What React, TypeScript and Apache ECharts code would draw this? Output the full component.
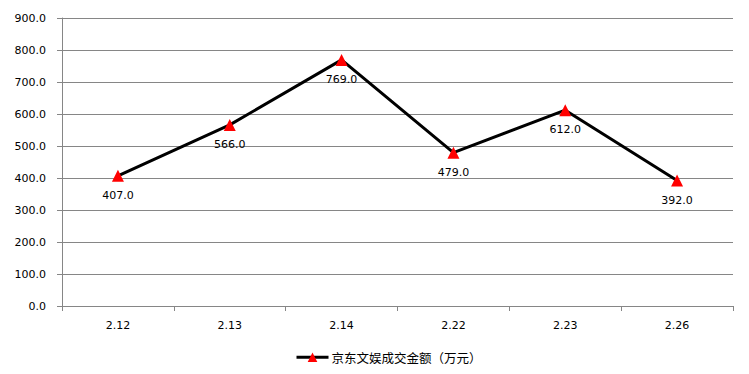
import React, { useEffect, useRef } from "react";
import * as echarts from "echarts";

const categories = ["2.12", "2.13", "2.14", "2.22", "2.23", "2.26"];
const values = [407.0, 566.0, 769.0, 479.0, 612.0, 392.0];
const seriesName = "京东文娱成交金额（万元）";

export default function App() {
  const ref = useRef<HTMLDivElement>(null);
  useEffect(() => {
    if (!ref.current) return;
    const chart = echarts.init(ref.current, undefined, { renderer: "svg" });
    chart.setOption({
      animation: false,
      backgroundColor: "#ffffff",
      grid: { left: 62, right: 16, top: 18, bottom: 68, containLabel: false },
      legend: {
        top: 351,
        left: 295,
        padding: 0,
        itemWidth: 32,
        itemHeight: 12,
        itemGap: 4,
        itemStyle: { color: "#ff0000" },
        lineStyle: { color: "#000000", width: 3 },
        textStyle: { fontFamily: "Noto Sans CJK SC", fontSize: 12.5, color: "#000", padding: [0, 0, 0, -2] },
        data: [{ name: seriesName }],
      },
      xAxis: {
        type: "category",
        data: categories,
        boundaryGap: true,
        axisLine: { lineStyle: { color: "#868686", width: 1 } },
        axisTick: { show: true, length: 5, lineStyle: { color: "#868686" }, alignWithLabel: false },
        axisLabel: { color: "#000", fontFamily: "DejaVu Sans", fontSize: 11, margin: 14 },
        splitLine: { show: false },
      },
      yAxis: {
        type: "value",
        min: 0,
        max: 900,
        interval: 100,
        axisLine: { show: true, lineStyle: { color: "#868686", width: 1 } },
        axisTick: { show: true, length: 5, lineStyle: { color: "#868686" } },
        axisLabel: {
          color: "#000",
          fontFamily: "DejaVu Sans",
          fontSize: 11,
          margin: 16,
          formatter: (v: number) => v.toFixed(1),
        },
        splitLine: { show: true, lineStyle: { color: "#868686", width: 1 } },
      },
      series: [
        {
          name: seriesName,
          type: "line",
          data: values,
          symbol: "triangle",
          symbolSize: 12,
          itemStyle: { color: "#ff0000" },
          lineStyle: { color: "#000000", width: 3 },
          label: {
            show: true,
            position: "bottom",
            distance: 8,
            color: "#000",
            fontFamily: "DejaVu Sans",
            fontSize: 11,
            formatter: (p: any) => Number(p.value).toFixed(1),
          },
        },
      ],
    });
    return () => chart.dispose();
  }, []);
  return <div ref={ref} style={{ width: 749, height: 374, position: "absolute", left: 0, top: 0 }} />;
}
